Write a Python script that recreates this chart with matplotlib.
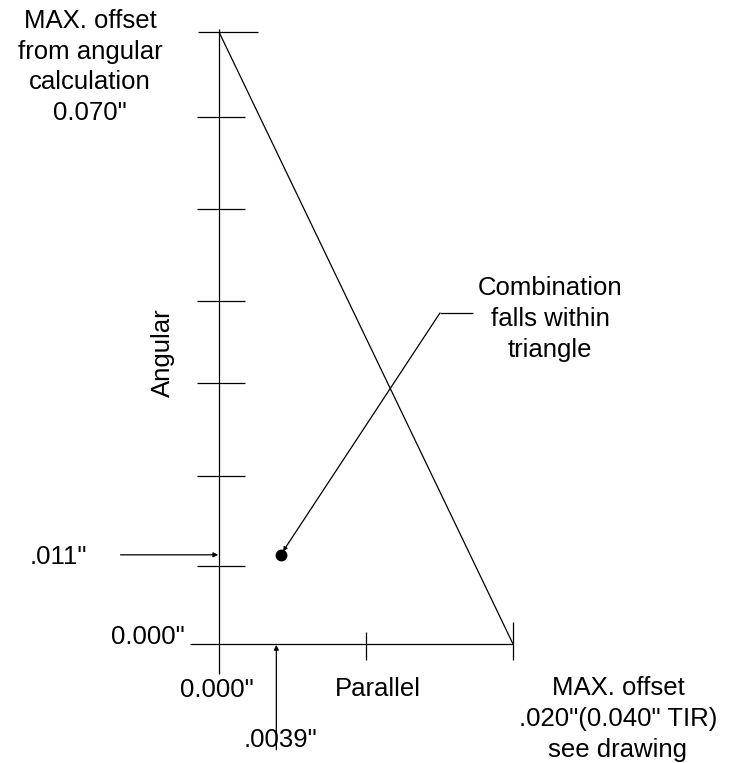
import matplotlib
matplotlib.use("Agg")
import matplotlib.pyplot as plt

# values (inches)
parallel_max = 0.020
angular_max = 0.070
parallel_ticks = [0.010, 0.020]
angular_ticks = [0.0603, 0.0498, 0.0392, 0.0299, 0.0192, 0.0089]
combo_parallel = 0.0042
combo_angular = 0.0102
mark_parallel = 0.0039
mark_angular = 0.0102

W, H = 735, 763
plt.rcParams['font.family'] = ['Liberation Sans', 'DejaVu Sans']
fs = 18.5

fig = plt.figure(figsize=(W / 100, H / 100), dpi=100)
ax = fig.add_axes([0, 0, 1, 1])
ax.set_xlim(-0.014898, 0.035102)
ax.set_ylim(-0.013611, 0.073659)
ax.axis("off")

lw = 0.9
k = dict(color="black", lw=lw, solid_capstyle="butt")

# axes of the diagram
ax.plot([0, 0], [-0.0034, angular_max + 0.0003], **k)
ax.plot([-0.002, parallel_max], [0, 0], **k)

# angular ticks
ax.plot([-0.00143, 0.00265], [angular_max, angular_max], **k)
for t in angular_ticks:
    ax.plot([-0.0015, 0.0018], [t, t], **k)

# parallel ticks
ax.plot([parallel_ticks[0]] * 2, [-0.00183, 0.00137], **k)
ax.plot([parallel_ticks[1]] * 2, [-0.00183, 0.00252], **k)

# limit line
ax.plot([0, parallel_max], [angular_max, 0], **k)

# the combination point + leader
ax.plot(combo_parallel, combo_angular, "o", color="black", ms=7.5)
ax.plot([0.01503, 0.01728], [0.03786, 0.03786], **k)
ax.annotate("", xy=(combo_parallel, combo_angular), xytext=(0.01503, 0.03786),
            arrowprops=dict(arrowstyle="-|>", color="black", lw=lw,
                            mutation_scale=6, shrinkA=0, shrinkB=3))

# dimension arrows
ax.annotate("", xy=(-0.00005, mark_angular), xytext=(-0.0067, mark_angular),
            arrowprops=dict(arrowstyle="-|>", color="black", lw=lw,
                            mutation_scale=7, shrinkA=0, shrinkB=0))
ax.annotate("", xy=(mark_parallel, -0.0001), xytext=(mark_parallel, -0.0121),
            arrowprops=dict(arrowstyle="-|>", color="black", lw=lw,
                            mutation_scale=7, shrinkA=0, shrinkB=0))


def label(x, y, s, **kw):
    fig.text(x / W, 1 - y / H, s, fontsize=fs, ha="center", va="center",
             linespacing=1.35, **kw)


label(90, 67, "MAX. offset\nfrom angular\ncalculation\n0.070\"")
label(163, 353, "Angular", rotation=90)
label(550, 319, "Combination\nfalls within\ntriangle")
label(58, 557, ".011\"")
label(148, 637, "0.000\"")
label(217, 690, "0.000\"")
label(378, 689, "Parallel")
label(281, 740, ".0039\"")
label(618, 719, "MAX. offset\n.020\"(0.040\" TIR)\nsee drawing")

fig.savefig("out.png", dpi=100)
